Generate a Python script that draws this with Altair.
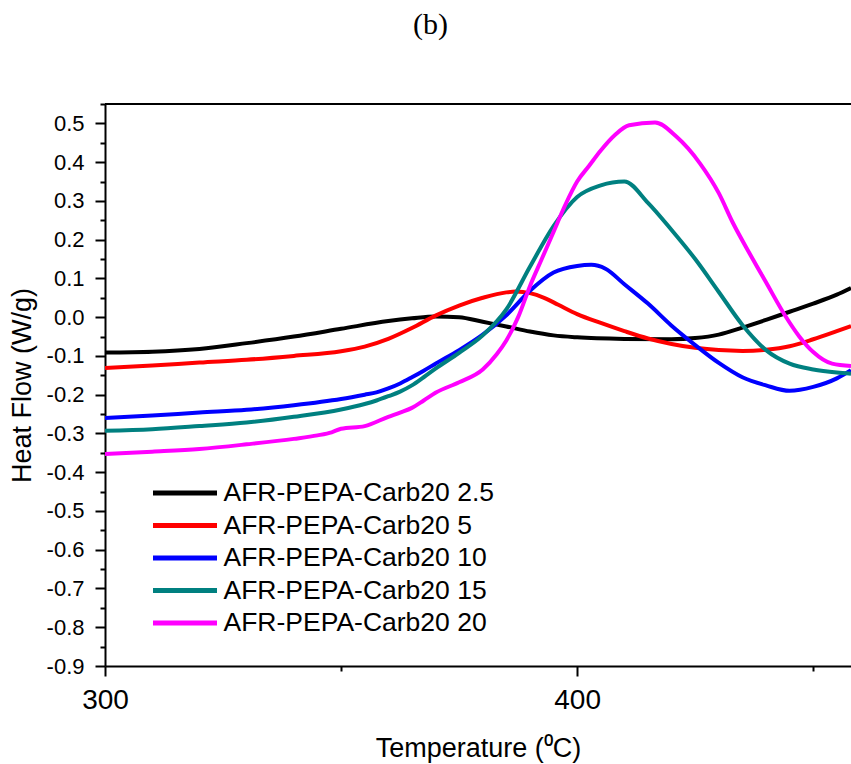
import altair as alt
import pandas as pd

series_names = ["AFR-PEPA-Carb20 2.5", "AFR-PEPA-Carb20 5", "AFR-PEPA-Carb20 10",
                "AFR-PEPA-Carb20 15", "AFR-PEPA-Carb20 20"]
series_colors = ["#000000", "#FF0000", "#0000FF", "#008080", "#FF00FF"]

t_black = [300, 310, 320, 330, 340, 350, 360, 365, 370, 375, 380, 385, 390, 395, 400,
           410, 420, 425, 430, 435, 440, 445, 450, 455, 458]
hf_black = [-0.091, -0.089, -0.082, -0.067, -0.050, -0.030, -0.010, -0.003, 0.002, 0.000,
            -0.012, -0.024, -0.037, -0.047, -0.052, -0.056, -0.057, -0.054, -0.045, -0.027,
            -0.007, 0.014, 0.035, 0.058, 0.075]

t_red = [300, 310, 320, 330, 340, 350, 355, 360, 365, 370, 375, 380, 385, 387, 390, 393,
         396, 400, 405, 410, 415, 420, 425, 430, 435, 440, 445, 450, 455, 458]
hf_red = [-0.131, -0.125, -0.117, -0.110, -0.100, -0.088, -0.076, -0.056, -0.028, 0.004,
          0.030, 0.050, 0.064, 0.066, 0.062, 0.050, 0.032, 0.008, -0.015, -0.036, -0.055,
          -0.069, -0.079, -0.085, -0.087, -0.084, -0.075, -0.057, -0.036, -0.023]

t_blue = [300, 310, 320, 330, 340, 350, 355, 357.5, 360, 362.5, 365, 367.5, 370, 375, 380,
          385, 390, 395, 400, 403, 406, 410, 415, 420, 425, 430, 435, 440, 445, 450, 455, 458]
hf_blue = [-0.260, -0.254, -0.246, -0.239, -0.227, -0.211, -0.200, -0.194, -0.184, -0.171,
           -0.155, -0.138, -0.120, -0.085, -0.045, 0.005, 0.068, 0.115, 0.132, 0.135, 0.125,
           0.085, 0.035, -0.022, -0.072, -0.118, -0.155, -0.176, -0.190, -0.180, -0.158, -0.137]

t_teal = [300, 310, 320, 330, 340, 350, 355, 357.5, 360, 362.5, 365, 367.5, 370, 375, 380,
          385, 390, 395, 400, 405, 410, 415, 420, 425, 430, 435, 440, 445, 450, 455, 458]
hf_teal = [-0.293, -0.289, -0.281, -0.272, -0.257, -0.238, -0.224, -0.215, -0.204, -0.192,
           -0.176, -0.155, -0.133, -0.092, -0.047, 0.020, 0.130, 0.235, 0.310, 0.340, 0.350,
           0.295, 0.225, 0.150, 0.065, -0.020, -0.085, -0.120, -0.135, -0.143, -0.146]

t_magenta = [300, 310, 320, 330, 340, 345, 348, 350, 355, 360, 362.5, 365, 367.5, 370, 375,
             380, 383, 385, 387.5, 390, 392.5, 395, 397.5, 400, 402.5, 405, 408, 411, 416.5,
             421, 426, 430, 433, 436.5, 440, 444, 447, 450, 454, 458]
hf_magenta = [-0.353, -0.347, -0.340, -0.328, -0.314, -0.305, -0.297, -0.288, -0.281, -0.257,
              -0.246, -0.234, -0.215, -0.195, -0.168, -0.135, -0.095, -0.060, 0.000, 0.080,
              0.150, 0.220, 0.290, 0.350, 0.390, 0.430, 0.470, 0.495, 0.502, 0.466, 0.397,
              0.320, 0.243, 0.165, 0.090, 0.005, -0.049, -0.090, -0.120, -0.126]

x_ticks = [300, 350, 400, 450]
y_ticks = [round(-0.9 + 0.05 * i, 2) for i in range(30)]

rows = []
for name, ts, hs in zip(series_names,
                        [t_black, t_red, t_blue, t_teal, t_magenta],
                        [hf_black, hf_red, hf_blue, hf_teal, hf_magenta]):
    for t, h in zip(ts, hs):
        rows.append({"T": t, "HF": h, "series": name})
df = pd.DataFrame(rows)

FONT = "Liberation Sans"
x_scale = alt.Scale(domain=[300, 458], nice=False, zero=False)
y_scale = alt.Scale(domain=[-0.9, 0.55], nice=False, zero=False)

major_y = "abs(datum.value*10 - round(datum.value*10)) < 0.001"

lines = alt.Chart(df).mark_line(strokeWidth=4, interpolate="monotone", clip=True).encode(
    x=alt.X("T:Q", scale=x_scale,
            axis=alt.Axis(values=x_ticks, format="d",
                          labelExpr="datum.value % 100 == 0 ? datum.label : ''",
                          tickSize={"condition": {"test": "datum.value % 100 == 0", "value": 10}, "value": 5},
                          tickWidth=2, tickColor="black", domainColor="black", domainWidth=2,
                          labelFont=FONT, labelFontSize=28, labelColor="black", labelPadding=10,
                          labelFlush=False, labelOverlap=False, grid=False,
                          title="Temperature (\u2070C)", titleFont=FONT, titleFontSize=27,
                          titleFontWeight="normal", titleColor="black", titlePadding=21)),
    y=alt.Y("HF:Q", scale=y_scale,
            axis=alt.Axis(values=y_ticks,
                          labelExpr=f"{major_y} ? ((datum.value < -0.001 ? '-' : '') + format(abs(datum.value), '.1f')) : ''",
                          tickSize={"condition": {"test": major_y, "value": 10}, "value": 5},
                          tickWidth=2, tickColor="black", domainColor="black", domainWidth=2,
                          labelFont=FONT, labelFontSize=22, labelColor="black", labelPadding=11,
                          labelFlush=False, labelOverlap=False, grid=False,
                          title="Heat Flow (W/g)", titleFont=FONT, titleFontSize=27,
                          titleFontWeight="normal", titleColor="black", titlePadding=10)),
    color=alt.Color("series:N",
                    scale=alt.Scale(domain=series_names, range=series_colors),
                    legend=alt.Legend(title=None, orient="none", legendX=45.5, legendY=376,
                                      symbolType="stroke", symbolSize=4096, symbolStrokeWidth=5,
                                      clipHeight=26, labelFont=FONT, labelFontSize=26.5,
                                      labelColor="black", labelOffset=4, rowPadding=5.5,
                                      padding=0, labelLimit=0)),
)

frame_top = alt.Chart(df).mark_rule(color="black", strokeWidth=2).encode(
    x=alt.value(0), x2=alt.value("width"), y=alt.value(0)
)

chart = alt.layer(lines, frame_top).properties(
    width=746, height=562,
    title=alt.TitleParams("(b)", font="Liberation Serif", fontSize=30, fontWeight="normal",
                          color="black", anchor="middle", frame="group", dx=-47.5, offset=53),
    autosize=alt.AutoSizeParams(type="none"),
    padding={"left": 105, "top": 104, "right": 0, "bottom": 98},
).configure_view(stroke=None).configure(background="white")

chart.save("out.html", embed_options={"renderer": "svg", "actions": False})
